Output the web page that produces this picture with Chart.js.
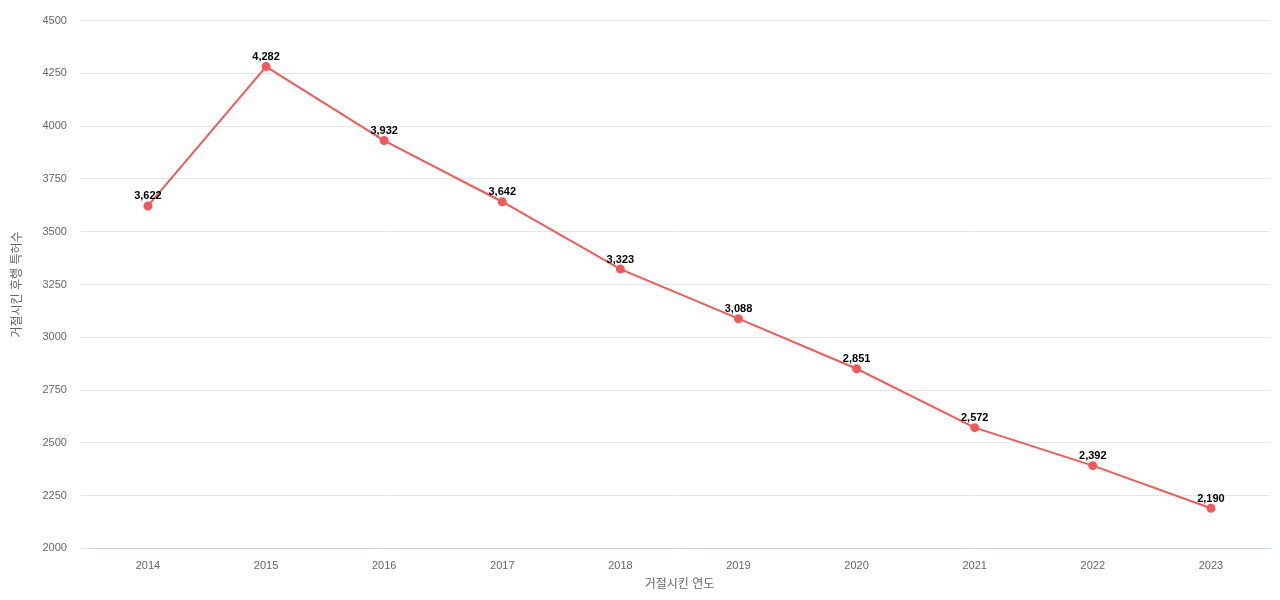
<!DOCTYPE html>
<html>
<head>
<meta charset="utf-8">
<script src="https://cdn.jsdelivr.net/npm/chart.js@4"></script>
<style>
  html, body { margin: 0; padding: 0; background: #fff; }
  #wrap { width: 1280px; height: 600px; }
</style>
</head>
<body>
<div id="wrap"><canvas id="chart"></canvas></div>
<script>
const years = ["2014", "2015", "2016", "2017", "2018", "2019", "2020", "2021", "2022", "2023"];
const counts = [3622, 4282, 3932, 3642, 3323, 3088, 2851, 2572, 2392, 2190];
const yTicks = [2000, 2250, 2500, 2750, 3000, 3250, 3500, 3750, 4000, 4250, 4500];

const lineColor = "#f05a5a";
const font = "'Liberation Sans', 'Noto Sans CJK KR', sans-serif";

// value labels above each point
const pointLabels = {
  id: "pointLabels",
  afterDatasetsDraw(chart) {
    const ctx = chart.ctx;
    const meta = chart.getDatasetMeta(0);
    ctx.save();
    ctx.font = "bold 11px 'Liberation Sans', sans-serif";
    ctx.fillStyle = "#000";
    ctx.textAlign = "center";
    ctx.textBaseline = "bottom";
    meta.data.forEach((pt, i) => {
      ctx.fillText(counts[i].toLocaleString("en-US"), pt.x, pt.y - 4);
    });
    ctx.restore();
  }
};

new Chart(document.getElementById("chart"), {
  type: "line",
  data: {
    labels: years,
    datasets: [{
      data: counts,
      borderColor: lineColor,
      backgroundColor: lineColor,
      borderWidth: 2,
      pointRadius: 3.5,
      pointHoverRadius: 5,
      tension: 0
    }]
  },
  options: {
    responsive: true,
    maintainAspectRatio: false,
    animation: false,
    layout: { padding: { top: 4, right: 10, bottom: 6, left: 6 } },
    plugins: { legend: { display: false }, tooltip: { enabled: false } },
    scales: {
      x: {
        offset: true,
        grid: { display: false },
        border: { color: "#c8d4ea" },
        ticks: { color: "#666", font: { size: 11, family: font } },
        title: { display: true, text: "거절시킨 연도", color: "#666", font: { size: 12, family: font }, padding: 2 }
      },
      y: {
        min: 2000,
        max: 4500,
        afterBuildTicks: (axis) => { axis.ticks = yTicks.map(v => ({ value: v })); },
        grid: { color: "#e6e6e6" },
        border: { display: false },
        ticks: { color: "#666", font: { size: 11, family: font }, padding: 14, callback: (v) => String(v) },
        title: { display: true, text: "거절시킨 후행 특허수", color: "#666", font: { size: 12, family: font } }
      }
    }
  },
  plugins: [pointLabels]
});
</script>
</body>
</html>
